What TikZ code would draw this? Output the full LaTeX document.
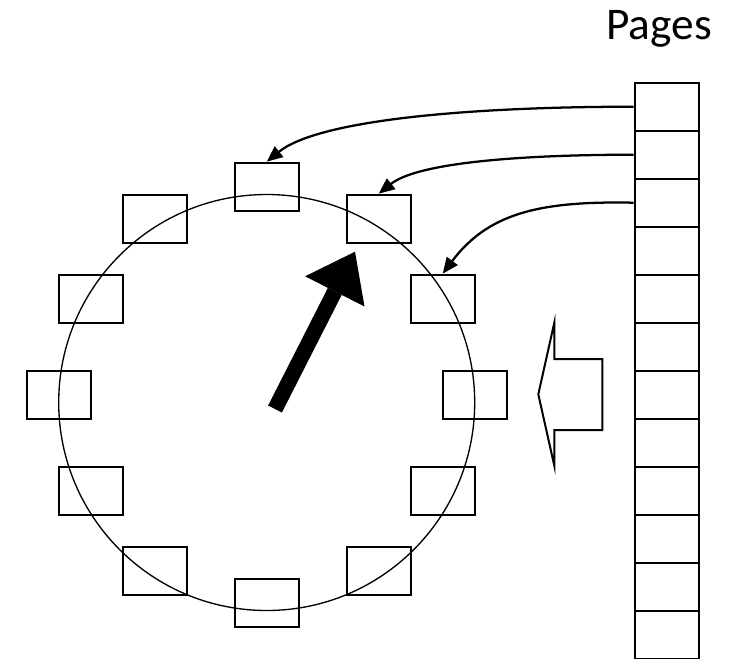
\documentclass[tikz,border=0pt]{standalone}
\usepackage{fontspec}
\setmainfont{Carlito}
\usetikzlibrary{arrows.meta}

\begin{document}
\begin{tikzpicture}[x=0.75pt, y=-0.75pt,
        slot/.style={draw, line width=1.5pt, minimum width=48pt, minimum height=36pt, inner sep=0pt},
        page/.style={draw, line width=1.7pt, minimum width=48pt, minimum height=36pt, inner sep=0pt},
        link/.style={line width=1.7pt, -{Triangle[length=12pt, width=10pt]}}]
        \useasboundingbox (0,0) rectangle (742,658);

        % the clock face
        \coordinate (hub) at (266.7,402.5);
        \draw[line width=1pt] (hub) circle[radius=208];

        % frames around the face
        \foreach \n/\dx/\dy in {12/0/-208, 1/112/-176, 2/176/-96, 3/208/0, 4/176/96, 5/112/176,
                6/0/208, 7/-112/176, 8/-176/96, 9/-208/0, 10/-176/-96, 11/-112/-176}
            \node(b\n) [slot] at (266.7+\dx,394.7+\dy) {};

        % the pages
        \node(title) [anchor=base, inner sep=0pt] at (659,39.3) {\fontsize{34}{40}\selectfont Pages};
        \foreach \i in {1,...,12}
            \node(p\i) [page] at (666.7,58.7+48*\i) {};

        \draw[link] (p1.west) .. controls +(-155,0) and +(53,-43) .. (b12.north);
        \draw[link] (p2.west) .. controls +(-105,0) and +(40,-32) .. (b1.north);
        \draw[link] (p3.west) .. controls +(-95,-2) and +(45,-60) .. (b2.north);

        % the hand
        \coordinate(tail) at (275,409);
        \coordinate(tip) at (355,251.7);
        \draw[line width=11.6pt, -{Triangle[length=33.4pt, width=50pt, line width=0pt]}] (tail) -- (tip);

        % hollow arrow
        \draw[line width=1.5pt, line join=miter] (538.3,394.3) -- (554.3,322.7) -- (554.3,359) -- (602.3,359)
            -- (602.3,430) -- (554.3,430) -- (554.3,465.7) -- cycle;
    \end{tikzpicture}
\end{document}
